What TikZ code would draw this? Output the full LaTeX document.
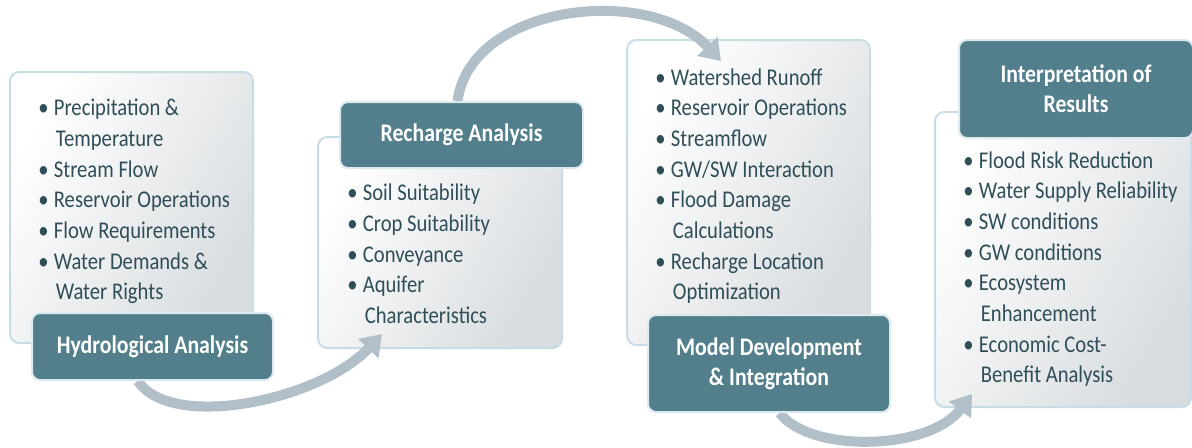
\documentclass[tikz,border=0pt]{standalone}
\usepackage{fontspec}
\setmainfont{Carlito}[FakeStretch=0.86]
\usetikzlibrary{arrows.meta}

\definecolor{titlefill}{HTML}{527F8B}
\definecolor{titleedge}{HTML}{DCEAF0}
\definecolor{listedge}{HTML}{C8DCE6}
\definecolor{listshade}{HTML}{D8DCDF}
\definecolor{listtext}{HTML}{2F4E58}
\definecolor{flowarrow}{HTML}{B1C0C8}

\pgfdeclarelayer{background}
\pgfdeclarelayer{arrows}
\pgfsetlayers{background,arrows,main}

\newcommand{\bul}{\textbullet\hspace{4pt}}
\newcommand{\hang}{\hphantom{\textbullet}\hspace{5.5pt}}

\begin{document}
\begin{tikzpicture}[x=0.75pt, y=-0.75pt]
      \tikzstyle{listbox} = [
        rectangle,
        draw=listedge,
        line width=1.5pt,
        left color=white,
        right color=listshade,
        shading angle=60,
        rounded corners=7pt
      ]

      \tikzstyle{items} = [
        anchor=north west,
        inner sep=0pt,
        align=left,
        text=listtext,
        font=\fontsize{18pt}{23pt}\selectfont
      ]

      \tikzstyle{titlebox} = [
        rectangle,
        draw=titleedge,
        line width=1.5pt,
        fill=titlefill,
        rounded corners=6pt,
        inner sep=0pt,
        text=white,
        align=center,
        font=\fontsize{19pt}{22.5pt}\selectfont\bfseries
      ]

      \tikzstyle{connector} = [
        draw=flowarrow,
        line width=7.5pt,
        -{Triangle[length=15pt, width=20pt]}
      ]

      \useasboundingbox (0,0) rectangle (1192,447);

      \begin{pgfonlayer}{background}
      \node[listbox, minimum width=182.25pt, minimum height=203.25pt] (hydro list) at (131.5,207.5) {};
      \node[listbox, minimum width=183pt, minimum height=158.25pt] (recharge list) at (440,242.5) {};
      \node[listbox, minimum width=182.25pt, minimum height=228.75pt] (model list) at (748.5,192.5) {};
      \node[listbox, minimum width=192pt, minimum height=221.25pt] (results list) at (1063,259.5) {};

      \node[items] (hydro items) at (38,94) {\strut\bul Precipitation \&\\
        \hang Temperature\\
        \bul Stream Flow\\
        \bul Reservoir Operations\\
        \bul Flow Requirements\\
        \bul Water Demands \&\\
        \hang Water Rights};
      \node[items] (recharge items) at (347,179) {\strut\bul Soil Suitability\\
        \bul Crop Suitability\\
        \bul Conveyance\\
        \bul Aquifer\\
        \hang Characteristics};
      \node[items] (model items) at (655,63.5) {\strut\bul Watershed Runoff\\
        \bul Reservoir Operations\\
        \bul Streamflow\\
        \bul GW/SW Interaction\\
        \bul Flood Damage\\
        \hang Calculations\\
        \bul Recharge Location\\
        \hang Optimization};
      \node[items] (results items) at (963,146.5) {\strut\bul Flood Risk Reduction\\
        \bul Water Supply Reliability\\
        \bul SW conditions\\
        \bul GW conditions\\
        \bul Ecosystem\\
        \hang Enhancement\\
        \bul Economic Cost-\\
        \hang Benefit Analysis};
      \end{pgfonlayer}

      \node[titlebox, minimum width=180.75pt, minimum height=50.25pt] (hydro title) at (152.5,346.5) {Hydrological Analysis};
      \node[titlebox, minimum width=182.25pt, minimum height=49.5pt] (recharge title) at (461.5,135) {Recharge Analysis};
      \node[titlebox, minimum width=181.5pt, minimum height=72.75pt] (model title) at (769,363.5) {Model Development\\\& Integration};
      \node[titlebox, minimum width=175.5pt, minimum height=73.5pt] (results title) at (1076,89) {Interpretation of\\Results};

      \begin{pgfonlayer}{arrows}
      \draw[connector] ([xshift=-11pt]hydro title.south) .. controls +(33,50) and +(-63,67) .. ([xshift=48.75pt, yshift=11.25pt]recharge list.south west);
      \draw[connector] ([xshift=-3pt]recharge title.north) .. controls +(13,-97) and +(-72,-77) .. ([xshift=71.25pt, yshift=-16.5pt]model list.north west);
      \draw[connector] ([xshift=8pt]model title.south) .. controls +(30,40) and +(-43,57) .. ([xshift=28.5pt, yshift=10.5pt]results list.south west);
      \end{pgfonlayer}
    \end{tikzpicture}
\end{document}
